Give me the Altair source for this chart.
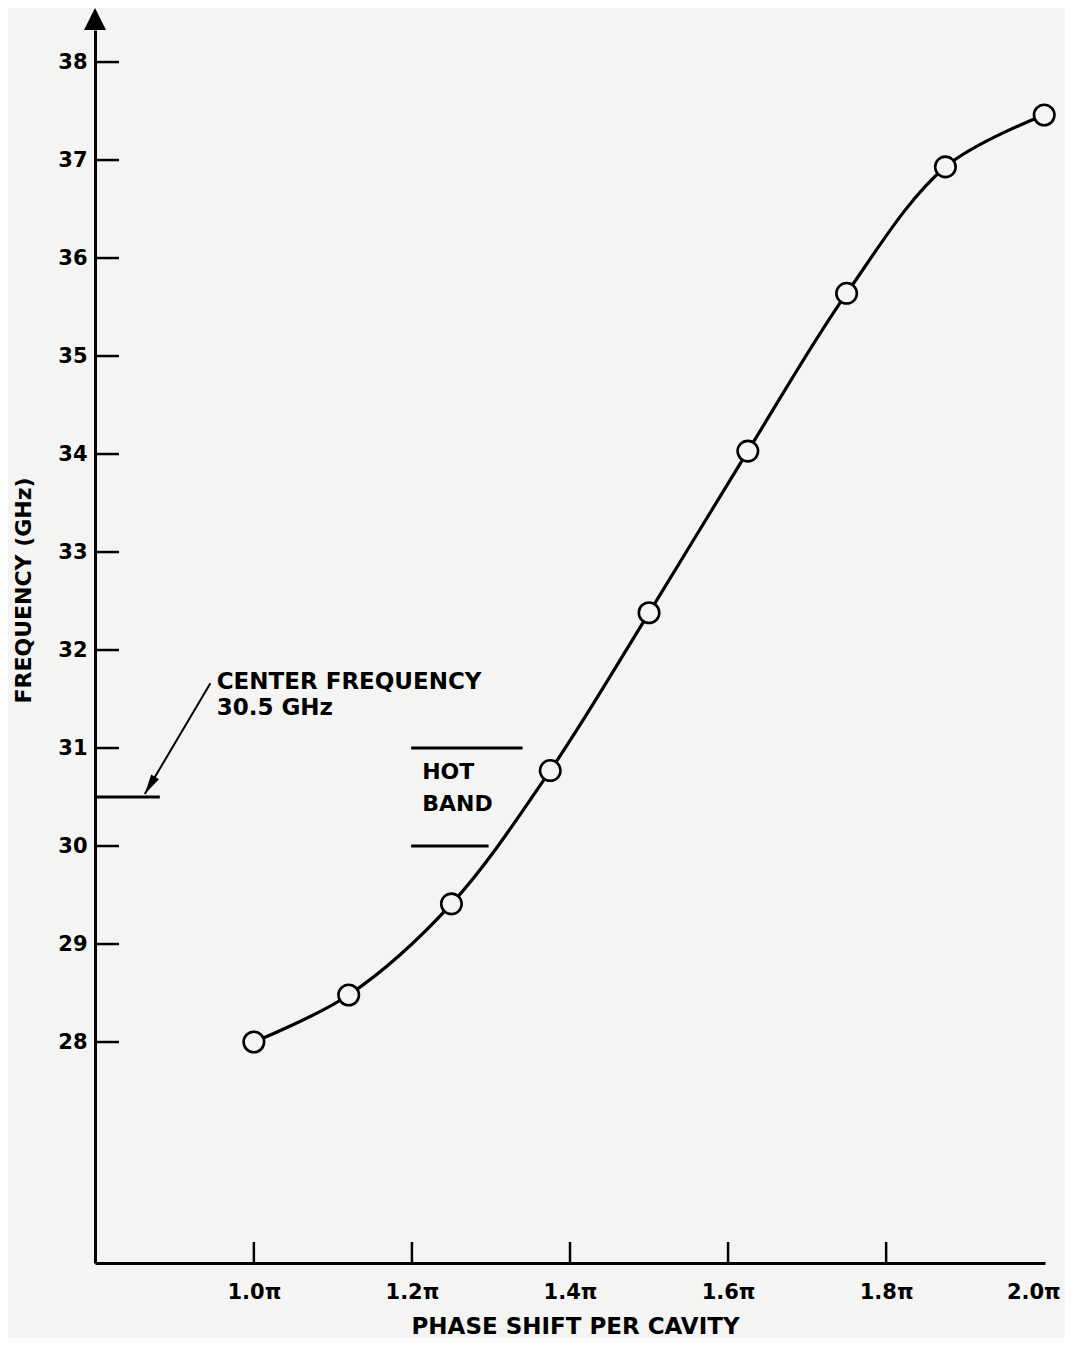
import altair as alt
import pandas as pd

# ---- data ----
phase = [1.0, 1.12, 1.25, 1.375, 1.5, 1.625, 1.75, 1.875, 2.0]          # x (units of pi)
freq = [28.0, 28.48, 29.41, 30.77, 32.38, 34.03, 35.64, 36.93, 37.46]    # GHz

x_ticks = [1.0, 1.2, 1.4, 1.6, 1.8, 2.0]
x_tick_marks = [1.0, 1.2, 1.4, 1.6, 1.8]
y_ticks = [28, 29, 30, 31, 32, 33, 34, 35, 36, 37, 38]

x_domain = [0.799, 2.001]
y_domain = [25.745, 38.327]

center_freq = 30.5
center_line_x = [0.799, 0.881]
center_arrow_from = [0.945, 31.66]
center_arrow_to = [0.862, 30.53]
center_text = ["CENTER FREQUENCY", "30.5 GHz"]
center_text_x = 0.953
center_text_y = [31.67, 31.41]

hot_band_y = [31.0, 30.0]
hot_band_x1 = [1.199, 1.199]
hot_band_x2 = [1.340, 1.297]
hot_text = ["HOT", "BAND"]
hot_text_x = 1.213
hot_text_y = [30.76, 30.43]

BG = "#f4f4f2"
FONT = "DejaVu Sans"
W, H = 950, 1233

xs = alt.Scale(domain=x_domain, nice=False, zero=False)
ys = alt.Scale(domain=y_domain, nice=False, zero=False)

df = pd.DataFrame({"phase": phase, "freq": freq})

x_axis = alt.Axis(
    values=x_ticks, labelExpr="format(datum.value, '.1f') + 'π'",
    ticks=False, tickSize=0, grid=False, labelPadding=18,
    labelFlush=True, labelFlushOffset=16,
    labelFont=FONT, labelFontSize=21, labelFontWeight="bold", labelColor="black",
    title="PHASE SHIFT PER CAVITY", titleFont=FONT, titleFontSize=23,
    titleFontWeight="bold", titleColor="black", titleX=480, titleY=63,
    titleBaseline="middle", titleAnchor="middle",
    domainColor="black", domainWidth=3, labelOverlap=False,
)
y_axis = alt.Axis(
    values=y_ticks, format="d", ticks=False, tickSize=0, grid=False, labelPadding=8,
    labelFont=FONT, labelFontSize=21, labelFontWeight="bold", labelColor="black",
    title="FREQUENCY (GHz)", titleFont=FONT, titleFontSize=22,
    titleFontWeight="bold", titleColor="black", titleX=-72, titleY=560,
    titleAngle=-90, titleBaseline="middle", titleAnchor="middle",
    domainColor="black", domainWidth=3, labelOverlap=False,
)

base = alt.Chart(df)

curve = base.mark_line(interpolate="catmull-rom", color="black", strokeWidth=3.2).encode(
    x=alt.X("phase:Q", scale=xs, axis=x_axis),
    y=alt.Y("freq:Q", scale=ys, axis=y_axis),
)
points = base.mark_point(
    shape="circle", filled=True, fill=BG, fillOpacity=1, stroke="black",
    strokeWidth=2.6, size=420, opacity=1,
).encode(x=alt.X("phase:Q", scale=xs), y=alt.Y("freq:Q", scale=ys))

# inward ticks
xt = alt.Chart(pd.DataFrame({"t": x_tick_marks})).mark_rule(color="black", strokeWidth=2.5).encode(
    x=alt.X("t:Q", scale=xs), y=alt.value(H), y2=alt.value(H - 21)
)
yt = alt.Chart(pd.DataFrame({"t": y_ticks})).mark_rule(color="black", strokeWidth=2.5).encode(
    y=alt.Y("t:Q", scale=ys), x=alt.value(0), x2=alt.value(24)
)

# arrow at top of the y axis
y_arrow = alt.Chart(pd.DataFrame({"x": [x_domain[0]], "y": [y_domain[1]]})).mark_point(
    shape="M-1,0L1,0L0,-2Z", filled=True, color="black", size=484, opacity=1
).encode(x=alt.X("x:Q", scale=xs), y=alt.Y("y:Q", scale=ys))

# center frequency annotation
cline = alt.Chart(pd.DataFrame({"x": [center_line_x[0]], "x2": [center_line_x[1]], "y": [center_freq]})).mark_rule(
    color="black", strokeWidth=3
).encode(x=alt.X("x:Q", scale=xs), x2="x2:Q", y=alt.Y("y:Q", scale=ys))

shaft = alt.Chart(pd.DataFrame({
    "x": [center_arrow_from[0]], "y": [center_arrow_from[1]],
    "x2": [center_arrow_to[0]], "y2": [center_arrow_to[1]],
})).mark_rule(color="black", strokeWidth=2).encode(
    x=alt.X("x:Q", scale=xs), y=alt.Y("y:Q", scale=ys), x2="x2:Q", y2="y2:Q"
)
head = alt.Chart(pd.DataFrame({"x": [center_arrow_to[0]], "y": [center_arrow_to[1]]})).mark_point(
    shape="M0,0L0.5,2.2L-0.5,2.2Z", filled=True, color="black", size=331, angle=211, opacity=1
).encode(x=alt.X("x:Q", scale=xs), y=alt.Y("y:Q", scale=ys))

ctext = alt.Chart(pd.DataFrame({"label": center_text, "x": [center_text_x] * 2, "y": center_text_y})).mark_text(
    align="left", baseline="middle", font=FONT, fontSize=23, fontWeight="bold", color="black"
).encode(x=alt.X("x:Q", scale=xs), y=alt.Y("y:Q", scale=ys), text="label:N")

# hot band
hlines = alt.Chart(pd.DataFrame({"x": hot_band_x1, "x2": hot_band_x2, "y": hot_band_y})).mark_rule(
    color="black", strokeWidth=3
).encode(x=alt.X("x:Q", scale=xs), x2="x2:Q", y=alt.Y("y:Q", scale=ys))
htext = alt.Chart(pd.DataFrame({"label": hot_text, "x": [hot_text_x] * 2, "y": hot_text_y})).mark_text(
    align="left", baseline="middle", font=FONT, fontSize=22, fontWeight="bold", color="black"
).encode(x=alt.X("x:Q", scale=xs), y=alt.Y("y:Q", scale=ys), text="label:N")

chart = alt.layer(
    xt, yt, cline, shaft, head, ctext, hlines, htext, curve, points, y_arrow
).properties(
    width=W, height=H,
    autosize=alt.AutoSizeParams(type="none"),
    padding={"left": 87, "top": 22, "right": 20, "bottom": 75},
    background=BG,
).configure_view(stroke=None).configure_axis(grid=False)

chart.save("out.html", embed_options={"renderer": "svg", "actions": False})
